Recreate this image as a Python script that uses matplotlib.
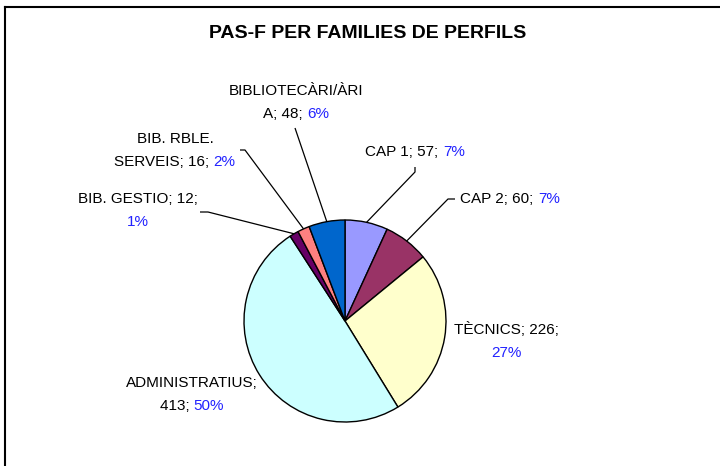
import matplotlib
matplotlib.use("Agg")
import matplotlib.pyplot as plt
from matplotlib.lines import Line2D
import numpy as np

# ---- data ----
categories = ["CAP 1", "CAP 2", "TÈCNICS", "ADMINISTRATIUS", "BIB. GESTIO",
              "BIB. RBLE. SERVEIS", "BIBLIOTECÀRI/ÀRIA"]
values = [57, 60, 226, 413, 12, 16, 48]
title = "PAS-F PER FAMILIES DE PERFILS"

# ---- style / layout ----
colors = ["#9999FF", "#993366", "#FFFFCC", "#CCFFFF", "#660066", "#FF8080", "#0066CC"]
pct_color = "#2222FF"
label_breaks = [None, None, 13, 15, 16, 10, 16]
label_x = [415, 510, 506, 192, 138, 175, 296]
label_y = [156, 203, 334, 387, 203, 143, 95]   # baseline of first line, px from top
line_gap = 23
leader_elbow = [(415, 172), (448, 199), None, None, (208, 212), (245, 150), (295, 128)]
leader_tip = [(415, 167), (455, 199), None, None, (200, 212), (240, 150), (295, 128)]

W, H = 720, 466
plt.rcParams['font.family'] = ['Liberation Sans', 'DejaVu Sans']
fig = plt.figure(figsize=(W / 100, H / 100), dpi=100)
ax = fig.add_axes([0, 0, 1, 1])

cx, cy, r = 345, H - 321, 101
wedges, _ = ax.pie(values, colors=colors, startangle=90, counterclock=False,
                   center=(cx, cy), radius=r, frame=True,
                   wedgeprops=dict(edgecolor='black', linewidth=1.0))
ax.set_xlim(0, W)
ax.set_ylim(0, H)
ax.set_aspect('equal')
ax.axis('off')

total = sum(values)
pcts = [f"{round(v / total * 100)}%" for v in values]

fig.canvas.draw()
renderer = fig.canvas.get_renderer()


def draw_line(text, pct, x, y):
    t = ax.text(x, H - y, text, ha='center', va='baseline', fontsize=11, color='black')
    if text == pct:
        t.set_color(pct_color)
        return
    if text.endswith(pct):
        bb = t.get_window_extent(renderer)
        t.set_text(text[:-len(pct)])
        t.set_ha('left')
        t.set_x(bb.x0)
        ax.text(bb.x1, H - y, pct, ha='right', va='baseline', fontsize=11, color=pct_color)


for i, (name, val) in enumerate(zip(categories, values)):
    full = f"{name}; {val}; {pcts[i]}"
    b = label_breaks[i]
    lines = [full] if b is None else [full[:b].strip(), full[b:].strip()]
    for k, ln in enumerate(lines):
        draw_line(ln, pcts[i], label_x[i], label_y[i] + k * line_gap)
    if leader_elbow[i] is not None:
        w = wedges[i]
        ang = np.deg2rad((w.theta1 + w.theta2) / 2)
        px, py = cx + r * np.cos(ang), cy + r * np.sin(ang)
        ex, ey = leader_elbow[i]
        tx, ty = leader_tip[i]
        ax.plot([px, ex, tx], [py, H - ey, H - ty], color='black', lw=0.9,
                solid_capstyle='butt')

ax.text(368, H - 38, title, ha='center', va='baseline', fontsize=14, fontweight='bold')

# chart frame (top and left edges visible)
fig.add_artist(Line2D([5 / W, 1], [1 - 7 / H, 1 - 7 / H], transform=fig.transFigure,
                      color='black', lw=1.5))
fig.add_artist(Line2D([5 / W, 5 / W], [0, 1 - 7 / H], transform=fig.transFigure,
                      color='black', lw=1.5))

fig.savefig('out.png', dpi=100)
